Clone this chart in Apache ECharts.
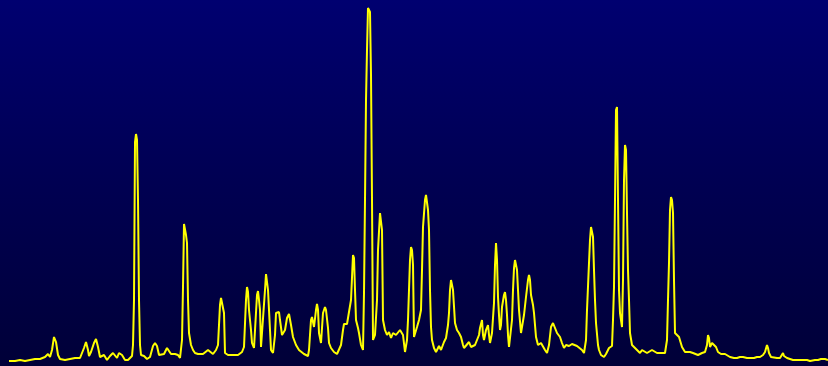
<!DOCTYPE html>
<html>
<head>
<meta charset="utf-8">
<script src="https://cdn.jsdelivr.net/npm/echarts@6/dist/echarts.min.js"></script>
<style>
  html, body { margin: 0; padding: 0; }
  #chart { width: 828px; height: 366px; }
</style>
</head>
<body>
<div id="chart"></div>
<script>
// channel positions along the spectrum
const channel = [
  9, 15, 20, 25, 30, 35, 40, 45, 48, 50, 52, 54, 56, 58, 60, 65, 70, 75, 80, 82,
  84, 86, 88, 89, 91, 94, 96, 98, 100, 102, 104, 107, 110, 113, 115, 117, 119, 120, 122, 125,
  128, 130, 132, 133, 134, 135, 136, 137, 138, 139, 140, 141, 144, 147, 150, 153, 155, 157, 159, 161,
  164, 167, 169, 171, 175, 178, 180, 182, 183, 184, 185, 186, 187, 188, 189, 191, 193, 195, 198, 200,
  203, 205, 208, 210, 213, 216, 218, 220, 221, 223, 224, 225, 228, 230, 233, 235, 238, 240, 242, 244,
  246, 247, 248, 249, 251, 252, 254, 255, 257, 258, 259, 260, 261, 263, 265, 266, 267, 268, 270, 271,
  273, 275, 276, 278, 279, 280, 282, 283, 285, 287, 289, 291, 293, 296, 299, 301, 304, 308, 309, 311,
  312, 314, 316, 317, 318, 319, 321, 323, 325, 326, 328, 329, 331, 334, 337, 339, 341, 343, 344, 347,
  349, 351, 353, 354, 355, 356, 358, 359, 361, 363, 364, 365, 366, 367, 368, 369, 370, 371, 372, 373,
  375, 377, 378, 380, 381, 382, 383, 385, 387, 388, 389, 391, 393, 394, 396, 398, 400, 401, 403, 405,
  407, 408, 410, 411, 412, 413, 414, 415, 417, 419, 421, 422, 423, 425, 426, 427, 428, 429, 430, 431,
  432, 434, 436, 438, 439, 441, 442, 444, 446, 448, 449, 450, 451, 452, 453, 455, 457, 459, 461, 463,
  464, 466, 469, 471, 472, 475, 477, 479, 480, 482, 483, 484, 486, 488, 489, 490, 492, 493, 494, 495,
  496, 497, 498, 499, 500, 501, 502, 504, 505, 506, 507, 508, 509, 511, 512, 513, 514, 515, 516, 517,
  518, 519, 521, 522, 524, 526, 528, 529, 530, 531, 533, 534, 536, 538, 539, 541, 542, 545, 547, 549,
  551, 553, 555, 557, 560, 562, 564, 566, 567, 569, 570, 572, 574, 577, 579, 582, 584, 586, 587, 589,
  590, 591, 592, 593, 594, 595, 596, 598, 599, 601, 604, 606, 609, 611, 612, 613, 614, 615, 616, 617,
  618, 619, 620, 621, 622, 623, 624, 625, 626, 627, 628, 629, 630, 632, 635, 637, 640, 642, 644, 647,
  649, 652, 654, 657, 659, 662, 665, 667, 668, 669, 670, 671, 672, 673, 674, 675, 677, 679, 682, 685,
  690, 693, 698, 702, 705, 707, 708, 709, 710, 712, 714, 716, 718, 721, 723, 725, 727, 730, 734, 737,
  740, 743, 747, 750, 754, 757, 760, 763, 765, 767, 768, 769, 771, 773, 777, 780, 782, 783, 784, 787,
  790, 793, 798, 803, 807, 810, 815, 818, 821, 823, 825, 828
];

// intensity at each channel
const intensity = [
  5, 5, 6, 5, 6, 7, 7, 9, 12, 9, 16, 29, 24, 11, 7, 6, 7, 8, 8, 10,
  18, 24, 16, 10, 14, 23, 27, 19, 9, 9, 11, 6, 10, 13, 11, 8, 13, 14, 11, 6,
  6, 8, 10, 21, 66, 224, 232, 226, 166, 66, 21, 11, 10, 7, 9, 20, 23, 20, 11, 10,
  12, 18, 15, 12, 12, 11, 8, 26, 79, 142, 143, 131, 123, 66, 33, 21, 16, 13, 12, 10,
  12, 14, 16, 16, 12, 16, 21, 61, 68, 66, 53, 13, 11, 10, 11, 9, 11, 11, 14, 19,
  66, 79, 74, 56, 36, 23, 18, 19, 71, 75, 66, 56, 19, 21, 76, 92, 90, 76, 36, 16,
  13, 31, 53, 53, 54, 46, 31, 29, 36, 48, 52, 41, 29, 21, 16, 14, 12, 10, 16, 46,
  49, 39, 56, 62, 56, 33, 23, 53, 59, 56, 38, 23, 18, 14, 12, 13, 21, 36, 42, 42,
  43, 66, 111, 108, 76, 46, 38, 33, 21, 16, 73, 166, 266, 316, 358, 359, 354, 291, 166, 26,
  31, 66, 116, 153, 151, 136, 46, 36, 31, 29, 34, 28, 33, 33, 31, 29, 36, 36, 31, 14,
  26, 46, 106, 119, 116, 101, 29, 31, 39, 46, 56, 96, 139, 166, 171, 173, 156, 136, 76, 39,
  26, 18, 14, 16, 20, 16, 18, 24, 28, 41, 53, 76, 86, 81, 76, 43, 36, 33, 29, 21,
  18, 19, 24, 19, 18, 21, 23, 31, 38, 46, 31, 26, 36, 41, 31, 23, 33, 48, 63, 101,
  123, 106, 69, 51, 36, 41, 59, 71, 74, 66, 51, 31, 19, 21, 46, 76, 98, 106, 108, 96,
  76, 56, 33, 39, 51, 69, 86, 91, 86, 71, 61, 53, 29, 21, 19, 23, 23, 16, 13, 21,
  39, 43, 43, 33, 29, 23, 18, 21, 22, 20, 19, 22, 22, 20, 19, 16, 13, 26, 56, 103,
  126, 139, 138, 129, 96, 66, 43, 21, 16, 11, 9, 12, 18, 18, 20, 46, 79, 166, 256, 259,
  166, 76, 53, 46, 39, 86, 186, 221, 216, 153, 96, 66, 33, 21, 18, 16, 13, 16, 16, 13,
  13, 16, 14, 13, 13, 13, 13, 26, 66, 103, 156, 169, 166, 153, 86, 33, 31, 29, 19, 14,
  14, 13, 11, 13, 14, 21, 31, 28, 19, 23, 24, 19, 14, 12, 11, 12, 13, 9, 8, 8,
  9, 9, 8, 8, 8, 9, 9, 11, 14, 21, 18, 13, 9, 8, 8, 8, 10, 13, 10, 8,
  7, 6, 6, 6, 6, 5, 6, 6, 7, 8, 7, 6
];

const chart = echarts.init(document.getElementById('chart'));

const option = {
  animation: false,
  backgroundColor: new echarts.graphic.LinearGradient(0, 0, 0, 1, [
    { offset: 0, color: '#000070' },
    { offset: 0.5, color: '#000052' },
    { offset: 1, color: '#000038' }
  ]),
  grid: { left: 0, right: 0, top: 0, bottom: 0 },
  xAxis: {
    type: 'value',
    min: 0,
    max: 828,
    show: false
  },
  yAxis: {
    type: 'value',
    min: 0,
    max: 366,
    show: false
  },
  series: [
    {
      type: 'line',
      symbol: 'none',
      lineStyle: { color: '#ffff00', width: 2 },
      data: channel.map((c, i) => [c, intensity[i]])
    }
  ]
};

chart.setOption(option);
</script>
</body>
</html>
